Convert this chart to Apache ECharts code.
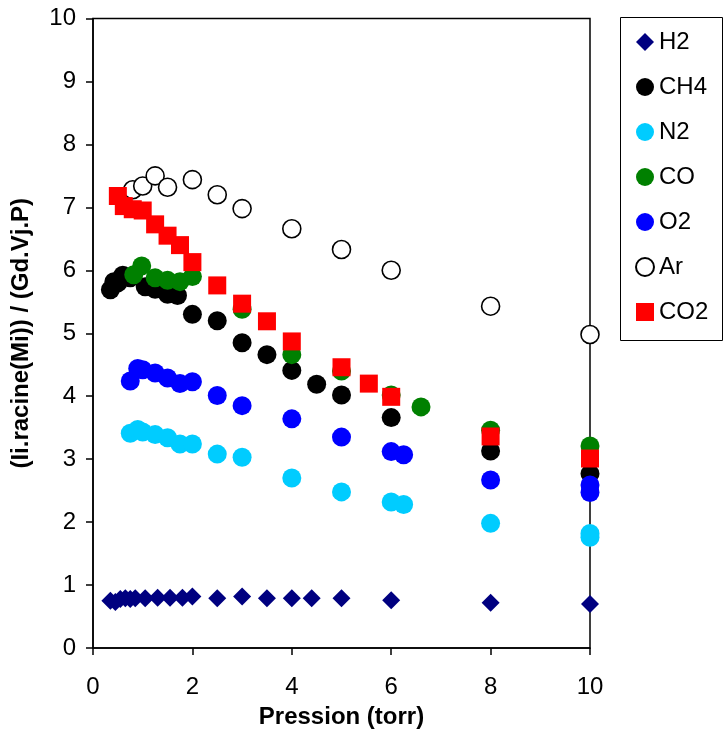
<!DOCTYPE html>
<html><head><meta charset="utf-8">
<script src="https://cdn.jsdelivr.net/npm/echarts@6/dist/echarts.min.js"></script>
<style>html,body{margin:0;padding:0;background:#fff}#c{width:725px;height:734px}</style>
</head><body><div id="c"></div>
<script>
const xTicks = [0, 2, 4, 6, 8, 10];
const yTicks = [0,1,2,3,4,5,6,7,8,9,10];

const h2X = [0.35,0.45,0.55,0.65,0.75,0.85,1.05,1.3,1.55,1.8,2.0,2.5,3.0,3.5,4.0,4.4,5.0,6.0,8.0,10.0];
const h2Y = [0.75,0.73,0.78,0.79,0.78,0.79,0.79,0.80,0.80,0.80,0.82,0.79,0.82,0.79,0.79,0.79,0.79,0.76,0.72,0.70];

const ch4X = [0.35,0.42,0.5,0.6,0.75,1.05,1.25,1.5,1.7,2.0,2.5,3.0,3.5,4.0,4.5,5.0,6.0,8.0,10.0];
const ch4Y = [5.69,5.82,5.80,5.92,5.88,5.74,5.70,5.62,5.60,5.30,5.20,4.85,4.66,4.41,4.19,4.02,3.66,3.13,2.77];

const n2X = [0.75,0.9,1.0,1.25,1.5,1.75,2.0,2.5,3.0,4.0,5.0,6.0,6.25,8.0,10.0,10.0];
const n2Y = [3.41,3.47,3.43,3.39,3.34,3.24,3.24,3.08,3.03,2.70,2.48,2.32,2.28,1.98,1.82,1.76];

const coX = [0.82,0.98,1.25,1.5,1.75,2.0,3.0,4.0,5.0,6.0,6.6,8.0,10.0];
const coY = [5.93,6.07,5.88,5.84,5.82,5.90,5.38,4.66,4.40,4.02,3.83,3.46,3.21];

const o2X = [0.75,0.9,1.0,1.25,1.5,1.75,2.0,2.5,3.0,4.0,5.0,6.0,6.25,8.0,10.0,10.0];
const o2Y = [4.24,4.44,4.42,4.37,4.29,4.20,4.23,4.01,3.85,3.64,3.35,3.12,3.07,2.67,2.59,2.47];

const arX = [0.8,1.0,1.25,1.5,2.0,2.5,3.0,4.0,5.0,6.0,8.0,10.0];
const arY = [7.28,7.34,7.50,7.32,7.44,7.20,6.98,6.66,6.33,6.00,5.43,4.98];

const co2X = [0.5,0.62,0.8,1.0,1.25,1.5,1.75,2.0,2.5,3.0,3.5,4.0,5.0,5.55,6.0,8.0,10.0];
const co2Y = [7.18,7.02,6.97,6.95,6.73,6.55,6.40,6.13,5.76,5.47,5.19,4.87,4.46,4.20,3.99,3.36,3.01];

const seriesNames = ['H2','CH4','N2','CO','O2','Ar','CO2'];

const pairs = (xs, ys) => xs.map((x, i) => [x, ys[i]]);
const FONT = 'Liberation Sans, Arial, sans-serif';
const DIAMOND = 'path://M0,-1 L1,0 L0,1 L-1,0 Z';

const defs = [
  {name:'H2', xs:h2X, ys:h2Y, symbol:DIAMOND, size:18, style:{color:'#000080', opacity:1}},
  {name:'CH4', xs:ch4X, ys:ch4Y, symbol:'circle', size:19, style:{color:'#000000', opacity:1}},
  {name:'N2', xs:n2X, ys:n2Y, symbol:'circle', size:19, style:{color:'#00ccff', opacity:1}},
  {name:'CO', xs:coX, ys:coY, symbol:'circle', size:19, style:{color:'#008000', opacity:1}},
  {name:'O2', xs:o2X, ys:o2Y, symbol:'circle', size:19, style:{color:'#0000ff', opacity:1}},
  {name:'Ar', xs:arX, ys:arY, symbol:'circle', size:18, style:{color:'#ffffff', borderColor:'#000000', borderWidth:1.6, opacity:1}},
  {name:'CO2', xs:co2X, ys:co2Y, symbol:'rect', size:18, style:{color:'#ff0000', opacity:1}}
];

const chart = echarts.init(document.getElementById('c'), null, {renderer:'canvas'});
chart.setOption({
  backgroundColor:'#fff',
  animation:false,
  textStyle:{fontFamily:FONT},
  grid:{left:93, right:135, top:18.5, bottom:85.5, show:true, borderColor:'#000', borderWidth:1.5, backgroundColor:'transparent'},
  graphic:[{type:'rect', left:618, top:15, shape:{width:102, height:323}, style:{fill:'none', stroke:'#000', lineWidth:1}, z:-1}],
  legend:{
    orient:'vertical', left:618, top:15, padding:[15,10,16,17],
    itemWidth:18, itemHeight:18, itemGap:21,
    textStyle:{fontSize:24, color:'#000', fontFamily:FONT, lineHeight:24},
    itemStyle:{opacity:1},
    data: seriesNames
  },
  xAxis:{
    type:'value', min:xTicks[0], max:xTicks[xTicks.length-1], interval:2,
    name:'Pression (torr)', nameLocation:'middle', nameGap:57,
    nameTextStyle:{fontSize:24, fontWeight:'bold', color:'#000', fontFamily:FONT},
    axisLine:{show:true, onZero:false, lineStyle:{color:'#000', width:1.5}},
    axisTick:{show:true, inside:false, length:7, lineStyle:{color:'#000', width:1.5}},
    axisLabel:{fontSize:24, color:'#000', margin:27, fontFamily:FONT},
    splitLine:{show:false}
  },
  yAxis:{
    type:'value', min:yTicks[0], max:yTicks[yTicks.length-1], interval:1,
    name:'(Ii.racine(Mi)) / (Gd.Vj.P)', nameLocation:'middle', nameGap:60, nameRotate:90,
    nameTextStyle:{fontSize:24, fontWeight:'bold', color:'#000', fontFamily:FONT},
    axisLine:{show:true, onZero:false, lineStyle:{color:'#000', width:1.5}},
    axisTick:{show:true, inside:false, length:7, lineStyle:{color:'#000', width:1.5}},
    axisLabel:{fontSize:24, color:'#000', margin:17, fontFamily:FONT},
    splitLine:{show:false}
  },
  series: defs.map(d => ({
    type:'scatter', name:d.name, data:pairs(d.xs, d.ys),
    symbol:d.symbol, symbolSize:d.size, itemStyle:d.style,
    emphasis:{disabled:true}
  }))
});
</script></body></html>
